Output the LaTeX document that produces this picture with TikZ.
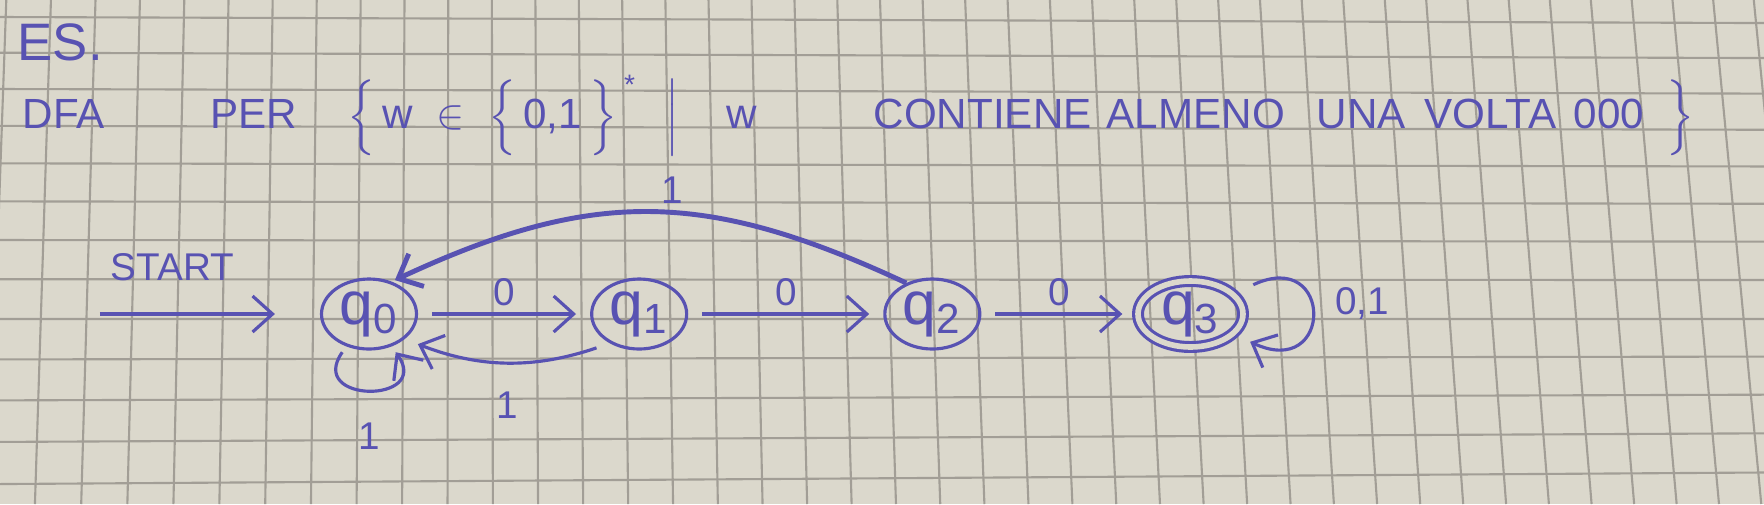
\documentclass[tikz,border=0pt]{standalone}
\usepackage{amsmath}
\usepackage{fontspec}
\setmainfont{Liberation Sans}
\usepackage{tikz}
\usetikzlibrary{arrows.meta, positioning, shapes.geometric}
\definecolor{InkBlue}  {RGB}{88, 82, 178}
\definecolor{PaperGrey}{RGB}{219, 216, 204}
\definecolor{GridGrey} {RGB}{162, 158, 150}

\begin{document}
\begin{tikzpicture}[
    node distance=1.7cm,
    state/.style={draw=InkBlue, ellipse, line width=0.9pt, minimum width=0.95cm, minimum height=0.7cm, inner sep=0pt, text=InkBlue, font=\fontsize{17.28}{18}\selectfont},
    accept/.style={state, double=PaperGrey, double distance=1.6pt, minimum width=1.05cm, minimum height=0.66cm},
    arrow/.style={-{Straight Barb[length=2mm, width=3.6mm]}, line width=0.9pt, InkBlue, shorten >=4pt, shorten <=4pt},
    lbl/.style={font=\fontsize{11}{12}\selectfont, text=InkBlue, inner sep=2pt},
    hand/.style={text=InkBlue, inner sep=0pt, anchor=base west},
    ttl/.style={hand, font=\fontsize{12}{14}\selectfont},
    gridline/.style={GridGrey, line width=0.6pt},
    every loop/.style={looseness=1, min distance=7mm}
]

    % Paper
    \useasboundingbox (0,0) rectangle (17.64,5.04);
    \fill[PaperGrey] (0,0) rectangle (17.64,5.04);
    \foreach \k in {0,...,41} {
        \pgfmathsetmacro{\xk}{(-2.5+45.556*\k-0.0517*\k*\k)/100}
        \pgfmathsetmacro{\sk}{-0.035+0.0075*\xk}
        \pgfmathsetmacro{\xt}{\xk-2.5*(\sk)}
        \pgfmathsetmacro{\xb}{\xk+2.54*(\sk)}
        \draw[gridline] (\xt,5.04) -- (\xb,0);
    }
    \foreach \j in {0,...,12} {
        \pgfmathsetmacro{\yl}{17+35.42*\j+0.2917*\j*\j}
        \pgfmathsetmacro{\yr}{319+(\yl-319)*ifthenelse(\j<8,0.98,0.93)}
        \draw[gridline] (0,{5.04-\yl/100}) -- (17.64,{5.04-\yr/100});
    }

    % Heading
    \node[hand, font=\fontsize{15}{16}\selectfont] (es) at (0.17,4.44) {ES.};
    \node[ttl] (dfa) at (0.22,3.76) {DFA};
    \node[ttl] (per) at (2.10,3.76) {PER};
    \node[ttl] (set) at (3.47,3.76) {$\Big\{\, \mathrm{w} \;\in\; \Big\{\,\text{0,1}\,\Big\}\,\raisebox{1.5ex}{\footnotesize *}\;\;\, \Big|\;\;\;\; \mathrm{w}$};
    \node[ttl] (contiene) at (8.73,3.76) {CONTIENE};
    \node[ttl] (almeno) at (11.06,3.76) {ALMENO};
    \node[ttl] (una) at (13.16,3.76) {UNA};
    \node[ttl] (volta) at (14.24,3.76) {VOLTA};
    \node[ttl] (zeros) at (15.73,3.76) {000};
    \node[ttl] (close) at (16.66,3.76) {$\Big\}$};

    % States
    \node[state] (q0) at (3.69,1.90) {$\mathrm{q}_{\mathrm{0}}$};
    \node[state, right=1.72cm of q0] (q1) {$\mathrm{q}_{\mathrm{1}}$};
    \node[state, right=1.95cm of q1] (q2) {$\mathrm{q}_{\mathrm{2}}$};
    \node[accept, right=1.55cm of q2] (q3) {$\mathrm{q}_{\mathrm{3}}$};
    \coordinate[left=2.2cm of q0] (start);

    % Transitions
    \draw[arrow, shorten <=0pt, shorten >=0.45cm] (start) -- node[lbl, above=7pt, pos=0.33] {START} (q0);
    \draw[arrow] (q0) -- node[lbl, above] {0} (q1);
    \draw[arrow] (q1) -- node[lbl, above] {0} (q2);
    \draw[arrow] (q2) -- node[lbl, above] {0} (q3);
    \draw[arrow] (q1.225) to[bend left=20] node[lbl, below=6pt] {1} (q0.-35);
    \draw[arrow, line width=1.4pt, shorten <=0pt, shorten >=1pt] (q2.130) to[out=155, in=25, looseness=1.1] node[lbl, above, pos=0.45] {1} (q0.55);
    \draw[arrow, shorten <=2pt, shorten >=2pt] (q0) to[out=-125, in=-55, loop] node[lbl, below=7pt] {1} (q0);
    \draw[arrow, shorten <=6pt, shorten >=5pt] (q3) to[out=25, in=-25, every loop/.style={looseness=1, min distance=11mm}, loop] node[lbl, anchor=south west, xshift=5pt, yshift=-4pt] {0,1} (q3);

\end{tikzpicture}
\end{document}
